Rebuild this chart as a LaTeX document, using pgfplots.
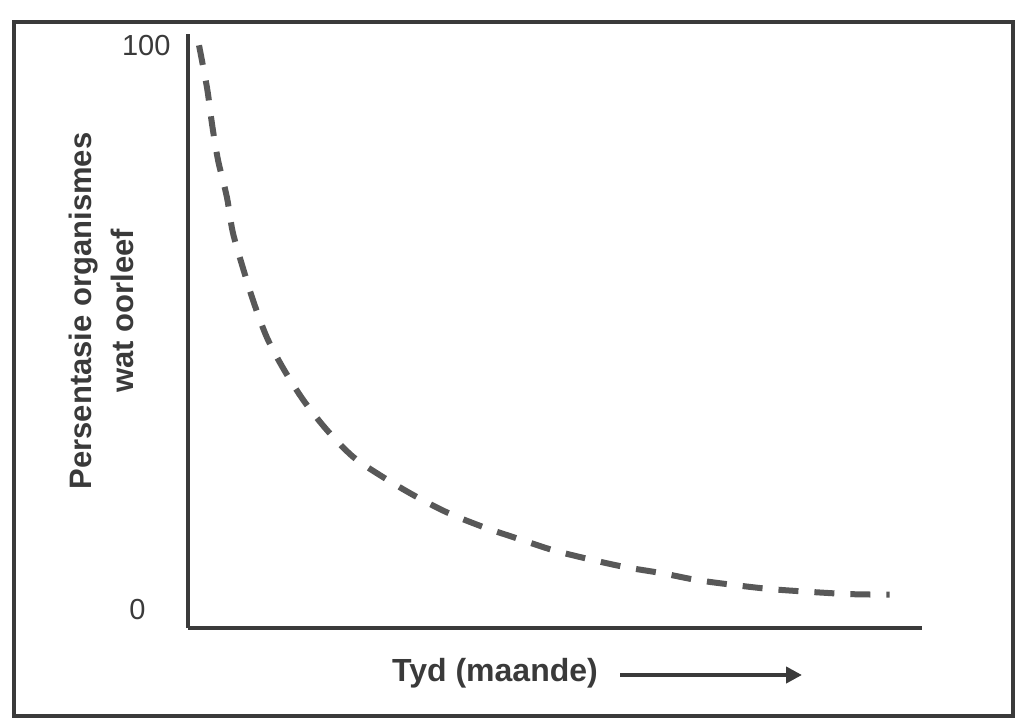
\documentclass[border=0pt]{standalone}
\usepackage{fontspec}
\setmainfont{Liberation Sans}
\usepackage{pgfplots}
\pgfplotsset{compat=1.18}
\usetikzlibrary{arrows.meta}
\definecolor{ink}{HTML}{3A3A3A}
\definecolor{dashgray}{HTML}{585858}

\pgfplotstableread{
x y
1.5 100
2.6 92.4
3.3 85.8
4.1 79.6
5.3 73.1
6.1 66.9
7.5 60.5
9.0 54.3
10.8 48.1
13.1 42.5
15.8 37.0
18.9 31.9
22.5 27.1
26.6 23.5
30.9 20.2
35.4 17.2
40.2 14.7
45.0 12.6
49.7 10.6
54.6 9.0
59.5 7.6
64.6 6.5
69.3 5.3
74.5 4.4
79.3 3.7
84.7 3.2
90.2 2.8
95.6 2.7
}\survival

\begin{document}
\begin{tikzpicture}[x=1pt,y=1pt]
\path[use as bounding box] (0,0) rectangle (1019,726);
% scanned frame round the figure
\draw[ink, line width=3.5pt] (14,10) rectangle (1013,704);

\begin{axis}[
    at={(188pt,98pt)}, anchor=south west,
    scale only axis, width=734pt, height=594pt,
    xmin=0, xmax=100, ymin=-3.2, ymax=102,
    axis x line*=bottom, axis y line*=left,
    axis line style={ink, line width=3.5pt, -},
    xtick=\empty,
    ytick={100}, extra y ticks={0},
    tick style={draw=none}, major tick length=0pt,
    /pgf/number format/assume math mode=true,
    yticklabel style={font=\fontsize{29}{34}\selectfont, text=ink, xshift=-14pt},
    extra y tick style={yticklabel style={xshift=-25pt}},
    clip=false,
]
\addplot[dashgray, line width=6pt, dash pattern=on 20pt off 16pt, smooth]
    table[x=x, y=y] {\survival};
\end{axis}

\node[rotate=90, align=center, text=ink,
      font=\bfseries\fontsize{31}{42}\selectfont] at (101,415)
      {Persentasie organismes\\wat oorleef};
\node[anchor=base, text=ink, font=\bfseries\fontsize{32}{38}\selectfont]
      at (495,45) {Tyd (maande)};
\draw[ink, line width=4pt, -{Triangle[length=16pt, width=16pt]}]
      (620,51) -- (802,51);
\end{tikzpicture}
\end{document}
